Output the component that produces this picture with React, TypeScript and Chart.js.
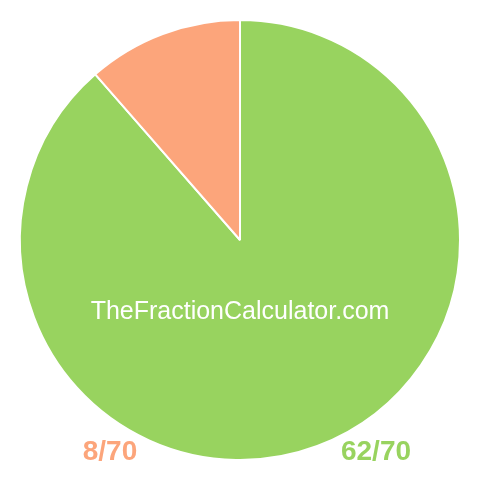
import { useEffect, useRef } from 'react';
import { Chart, registerables } from 'chart.js';

Chart.register(...registerables);

const labels = ['62/70', '8/70'];
const values = [62, 8];
const colors = ['#98d35f', '#fca57b'];
const watermark = 'TheFractionCalculator.com';

const textPlugin = {
  id: 'fractionText',
  afterDraw(chart: Chart) {
    const ctx = chart.ctx;
    ctx.save();
    ctx.textAlign = 'center';
    ctx.textBaseline = 'alphabetic';
    ctx.fillStyle = '#ffffff';
    ctx.font = '25px "Liberation Sans", Arial, sans-serif';
    ctx.fillText(watermark, 240, 319);
    ctx.font = 'bold 28px "Liberation Sans", Arial, sans-serif';
    ctx.fillStyle = colors[1];
    ctx.fillText(labels[1], 110, 460);
    ctx.fillStyle = colors[0];
    ctx.fillText(labels[0], 376, 460);
    ctx.restore();
  },
};

export default function App() {
  const chartRef = useRef<HTMLCanvasElement>(null);

  useEffect(() => {
    if (!chartRef.current) return;

    const chart = new Chart(chartRef.current, {
      type: 'pie',
      data: {
        labels,
        datasets: [{ data: values, backgroundColor: colors, borderColor: '#ffffff', borderWidth: 2 }],
      },
      options: {
        responsive: false,
        animation: false,
        layout: { padding: 19 },
        plugins: { legend: { display: false }, tooltip: { enabled: false } },
      },
      plugins: [textPlugin],
    });

    return () => {
      chart.destroy();
    };
  }, []);

  return (
    <div style={{ position: 'absolute', left: 0, top: 0, width: 480, height: 480, background: '#fff' }}>
      <canvas ref={chartRef} width={480} height={480} />
    </div>
  );
}
